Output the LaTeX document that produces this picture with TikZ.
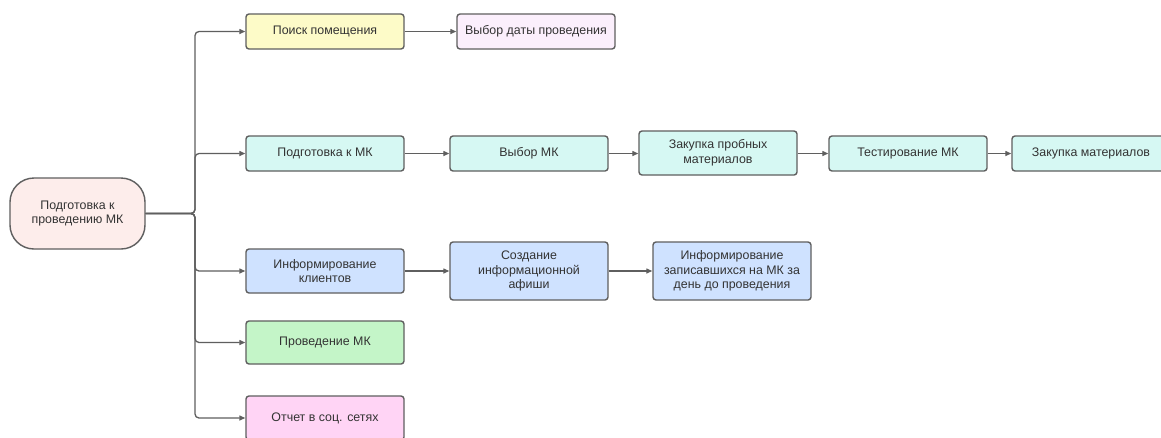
\documentclass[tikz,border=0pt]{standalone}
\usepackage{fontspec}
\setmainfont{Liberation Sans}
\usetikzlibrary{arrows.meta}
\definecolor{edge}{HTML}{5F5F5F}
\definecolor{txt}{HTML}{333333}
\definecolor{cyel}{HTML}{FDFBC8}
\definecolor{clav}{HTML}{FBEFFC}
\definecolor{ccyan}{HTML}{D6F8F3}
\definecolor{cblue}{HTML}{CFE2FF}
\definecolor{cgreen}{HTML}{C4F5C8}
\definecolor{cpink}{HTML}{FFD4F5}
\definecolor{croot}{HTML}{FDEDEB}
\begin{document}
\begin{tikzpicture}[x=1pt,y=-1pt,
  box/.style={draw=edge, line width=1.4pt, rounded corners=3pt, minimum width=158pt,
    minimum height=35pt, inner sep=0pt, align=center, text=txt,
    font=\fontsize{12.4}{14.6}\selectfont},
  conn/.style={draw=edge, line width=1.3pt, -{Triangle[length=6pt,width=5pt]}},
  trunk/.style={conn, rounded corners=4pt}]
\useasboundingbox (0,0) rectangle (1161,437);
\clip (0,0) rectangle (1161,437);
\fill[white] (0,0) rectangle (1161,437);

\node[box, fill=croot, minimum width=135pt, minimum height=71pt, rounded corners=24pt] (root) at (77.5,213.5) {Подготовка к\\проведению МК};

\node[box, fill=cyel] (poisk) at (325,31.5) {Поиск помещения};
\node[box, fill=clav] (data) at (536,31.5) {Выбор даты проведения};

\node[box, fill=ccyan] (podg) at (325,153.5) {Подготовка к МК};
\node[box, fill=ccyan] (vybor) at (529,153.5) {Выбор МК};
\node[box, fill=ccyan, minimum height=44pt] (zakp) at (718,153) {Закупка пробных\\материалов};
\node[box, fill=ccyan] (test) at (908,153.5) {Тестирование МК};
\node[box, fill=ccyan] (zakm) at (1091,153.5) {Закупка материалов};

\node[box, fill=cblue, minimum height=44pt] (inf) at (325,271) {Информирование\\клиентов};
\node[box, fill=cblue, minimum height=58pt] (sozd) at (529,271) {Создание\\информационной\\афиши};
\node[box, fill=cblue, minimum height=58pt] (infz) at (732,271) {Информирование\\записавшихся на МК за\\день до проведения};

\node[box, fill=cgreen, minimum height=43pt] (prov) at (325,342.5) {Проведение МК};
\node[box, fill=cpink, minimum height=44pt] (otch) at (325,418) {Отчет в соц. сетях};

\coordinate (j) at (195,213.5);
\foreach \t in {poisk,podg,inf,prov,otch}
  \draw[trunk] (root.east) -- (j) |- (\t.west);

\draw[conn] (poisk) -- (data);
\draw[conn] (podg) -- (vybor);
\draw[conn] (vybor) -- (vybor.east -| zakp.west);
\draw[conn] (zakp.east |- test) -- (test);
\draw[conn] (test) -- (zakm);
\draw[conn] (inf) -- (sozd);
\draw[conn] (sozd) -- (infz);
\end{tikzpicture}
\end{document}
